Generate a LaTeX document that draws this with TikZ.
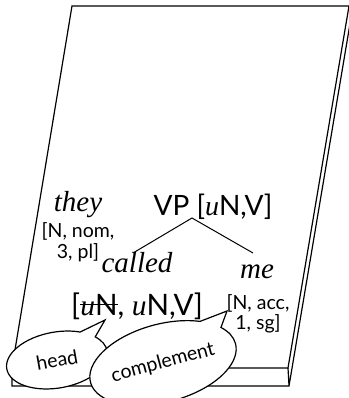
\documentclass[tikz,border=0pt]{standalone}
\usepackage{fontspec}
\setmainfont{Liberation Serif}
\setsansfont{Lato}
\usetikzlibrary{shapes.callouts}

\newcommand{\uit}{\textrm{\textit{u}}}
\newcommand{\struck}[1]{\sbox0{#1}\rlap{\rule[0.45\ht0]{\wd0}{1.3pt}}\usebox0}

\begin{document}
\begin{tikzpicture}[x=1pt,y=-1pt,line width=1.2pt,
    cat/.style={font=\sffamily\fontsize{28}{28}\selectfont,inner sep=0pt,anchor=base},
    word/.style={font=\itshape\fontsize{29}{29}\selectfont,inner sep=0pt,anchor=base},
    feat/.style={font=\sffamily\fontsize{19.5}{20.5}\selectfont,align=center,inner sep=0pt},
    bubble/.style={ellipse callout,draw,fill=white,callout pointer arc=22,
        font=\sffamily\fontsize{19.5}{19.5}\selectfont,inner sep=0pt}]
            \useasboundingbox (0,0) rectangle (348,398);

            % the page
            \coordinate (A) at (72,6);
            \coordinate (B) at (349,6);
            \coordinate (C) at (288,368);
            \coordinate (D) at (12,368);
            \coordinate (B2) at (353,6);
            \coordinate (C2) at (289,386);
            \coordinate (D2) at (12,386);
            \draw (A)--(B)--(C)--(D)--cycle;
            \draw (D)--(D2)--(C2)--(C) (C2)--(B2);

            % the tree
            \node[cat] (vp) at (213,215) {VP [\uit N,V]};
            \node[word] (they) at (78,211) {they};
            \node[feat] (theyf) at (78,242) {[N, nom,\\3, pl]};
            \node[word] (called) at (137,272) {called};
            \node[cat,font=\sffamily\fontsize{29.5}{29.5}\selectfont] (calledf) at (137,315) {[\struck{\uit N}, \uit N,V]};
            \node[word] (me) at (257,278) {me};
            \node[feat] (mef) at (258,314) {[N, acc,\\1, sg]};

            \coordinate (top) at (192,218);
            \coordinate (L) at (133,253);
            \coordinate (R) at (253,253);
            \draw[line width=1pt] (L)--(top)--(R);

            % the bubbles
            \coordinate (hp) at (105,320);
            \coordinate (cp) at (227,311);
            \node[bubble,rotate=10,minimum width=102pt,minimum height=56pt,
                callout absolute pointer={(hp)}] (head) at (57,360) {head};
            \node[bubble,rotate=15,minimum width=150pt,minimum height=78pt,
                callout absolute pointer={(cp)}] (comp) at (163,363) {complement};
        \end{tikzpicture}
\end{document}
